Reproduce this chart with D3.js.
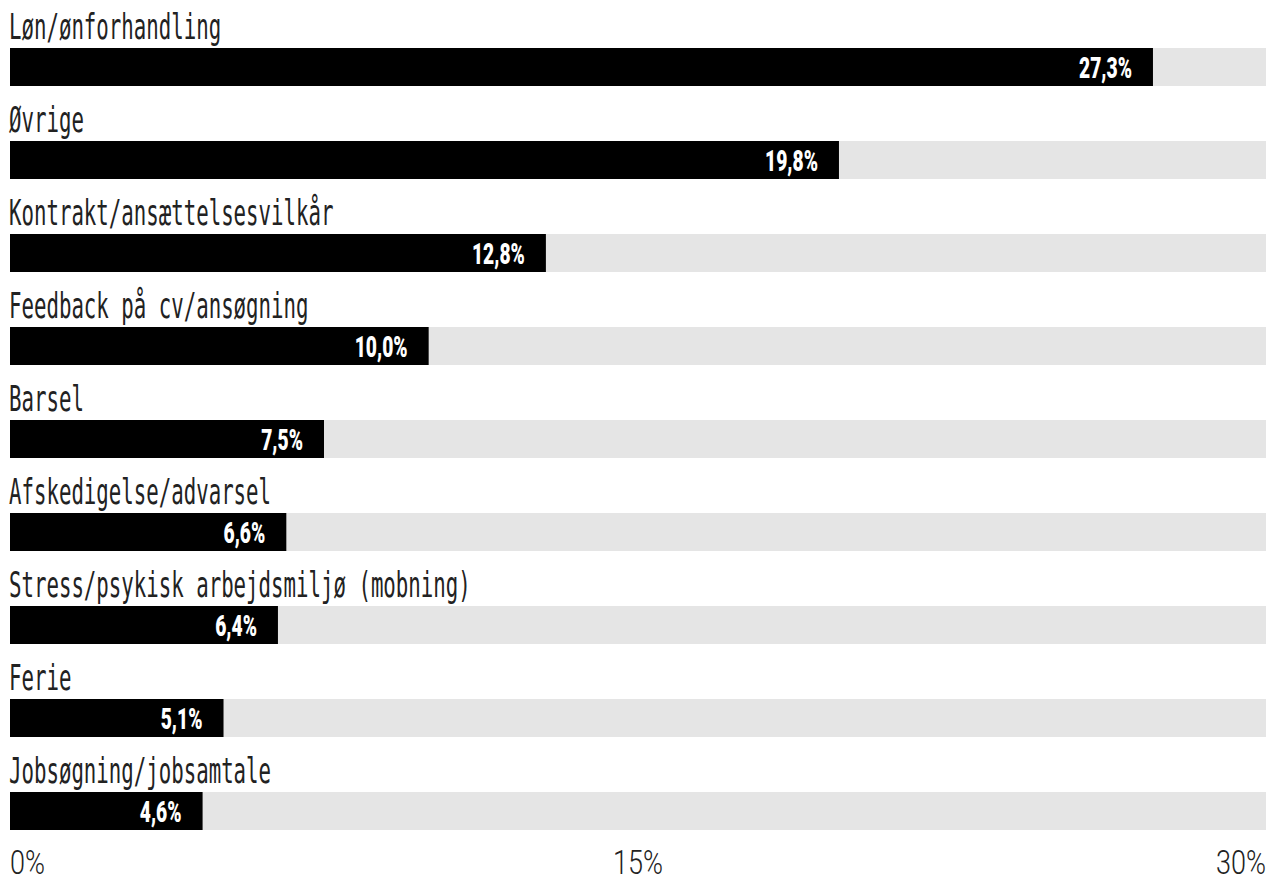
<!DOCTYPE html>
<html>
<head>
<meta charset="utf-8">
<script src="https://cdn.jsdelivr.net/npm/d3@7"></script>
<style>
  body { margin: 0; background: #fff; }
  svg text { font-family: Roboto, "Open Sans", "DejaVu Sans", sans-serif; }
  svg text.cat { font-family: "DejaVu Sans Mono", "Liberation Mono", monospace; }
</style>
</head>
<body>
<svg width="1269" height="879"></svg>
<script>
var categories = ["Løn/ønforhandling", "Øvrige", "Kontrakt/ansættelsesvilkår", "Feedback på cv/ansøgning",
  "Barsel", "Afskedigelse/advarsel", "Stress/psykisk arbejdsmiljø (mobning)", "Ferie", "Jobsøgning/jobsamtale"];
var values = [27.3, 19.8, 12.8, 10.0, 7.5, 6.6, 6.4, 5.1, 4.6];
var tickValues = [0, 15, 30];

var svg = d3.select("svg"),
    left = 10, right = 1266,
    firstTop = 48, step = 93, barH = 38;

var x = d3.scaleLinear().domain([0, 30]).range([left, right]);
var y = d3.scaleBand().domain(categories)
    .range([firstTop, firstTop + step * categories.length]).paddingInner(0).paddingOuter(0);

var fmt = function(v) { return d3.format(".1f")(v).replace(".", ",") + "%"; };

// the original uses a narrow, almost fixed-pitch face, so squeeze the text to the measured widths
function fitFactor(cls, size, weight, sample, target) {
  var t = svg.append("text").attr("class", cls).attr("font-size", size).attr("font-weight", weight).text(sample);
  var w = t.node().getComputedTextLength();
  t.remove();
  return target / w;
}
var labelK = fitFactor("cat", 36, 400, "Stress/psykisk arbejdsmiljø (mobning)", 462);
var valueK = fitFactor("val", 29, 900, "27,3%", 53);
var tickK = fitFactor("tick", 34, 300, "30%", 50);

var rows = svg.selectAll("g.row")
  .data(categories)
  .enter().append("g")
  .attr("class", "row")
  .attr("transform", function(d) { return "translate(0," + y(d) + ")"; });

rows.append("rect")
  .attr("x", x(0)).attr("y", 0)
  .attr("width", x(30) - x(0)).attr("height", barH)
  .attr("fill", "#e5e5e5");

rows.append("rect")
  .attr("x", x(0)).attr("y", 0)
  .attr("width", function(d, i) { return x(values[i]) - x(0); })
  .attr("height", barH)
  .attr("fill", "#000");

rows.append("text")
  .attr("class", "cat")
  .attr("transform", "translate(" + (left - 1) + ",-9) scale(" + labelK + ",1)")
  .attr("font-size", 36)
  .attr("fill", "#222")
  .text(function(d) { return d; });

rows.append("text")
  .attr("class", "val")
  .attr("transform", function(d, i) {
    return "translate(" + (x(values[i]) - 21) + ",29.5) scale(" + valueK + ",1)";
  })
  .attr("text-anchor", "end")
  .attr("font-size", 29)
  .attr("font-weight", 900)
  .attr("fill", "#fff")
  .text(function(d, i) { return fmt(values[i]); });

// axis labels
svg.selectAll("text.tick")
  .data(tickValues)
  .enter().append("text")
  .attr("class", "tick")
  .attr("transform", function(d) { return "translate(" + x(d) + ",874) scale(" + tickK + ",1)"; })
  .attr("text-anchor", function(d, i) { return i == 0 ? "start" : (i == tickValues.length - 1 ? "end" : "middle"); })
  .attr("font-size", 34)
  .attr("font-weight", 300)
  .attr("fill", "#222")
  .text(function(d) { return d + "%"; });
</script>
</body>
</html>
